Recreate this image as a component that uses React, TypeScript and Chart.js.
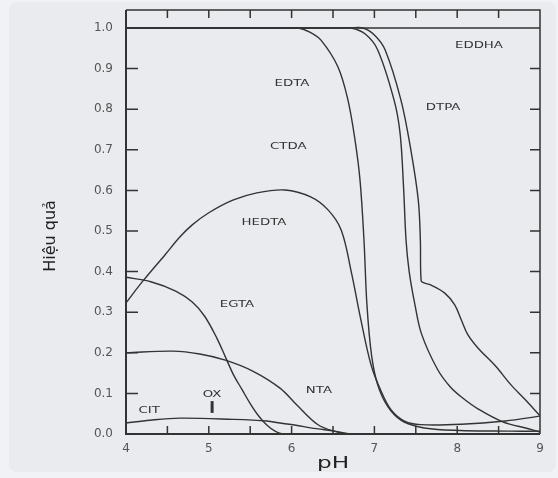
import React, { useEffect, useRef } from 'react';
import { Chart, registerables } from 'chart.js';

Chart.register(...registerables);

// ---- axis values ----
const xTickValues = [4, 5, 6, 7, 8, 9];
const xMinorTicks = [4.5, 5, 5.5, 6, 6.5, 7, 7.5, 8, 8.5];
const yTickValues = [0, 0.1, 0.2, 0.3, 0.4, 0.5, 0.6, 0.7, 0.8, 0.9, 1.0];
const yInnerTicks = [0.1, 0.2, 0.3, 0.4, 0.5, 0.6, 0.7, 0.8, 0.9];
const xAxisTitle = 'pH';
const yAxisTitle = 'Hiệu quả';

// ---- series (pH, efficiency) ----
const eddhaPH = [4, 9];
const eddhaVal = [1.0, 1.0];

const edtaPH = [4, 5.9, 6.08, 6.22, 6.355, 6.56, 6.68, 6.766, 6.826, 6.874, 6.91, 6.965, 7.04, 7.16, 7.32, 7.53, 7.85, 8.65, 9];
const edtaVal = [1.0, 1.0, 1.0, 0.99, 0.97, 0.904, 0.823, 0.724, 0.626, 0.478, 0.318, 0.195, 0.121, 0.068, 0.034, 0.018, 0.01, 0.007, 0.007];

const hedtaPH = [4, 4.205, 4.47, 4.65, 4.8, 5.0, 5.29, 5.58, 5.92, 6.23, 6.44, 6.6, 6.72, 6.84, 6.96, 7.08, 7.2, 7.37, 7.56, 8.05, 8.58, 9];
const hedtaVal = [0.323, 0.377, 0.441, 0.485, 0.515, 0.545, 0.576, 0.594, 0.601, 0.584, 0.552, 0.502, 0.4, 0.278, 0.17, 0.106, 0.06, 0.031, 0.023, 0.024, 0.032, 0.044];

const dtpaPH = [4, 6.55, 6.72, 6.89, 7.04, 7.237, 7.31, 7.352, 7.382, 7.42, 7.49, 7.57, 7.76, 7.92, 8.07, 8.25, 8.55, 8.86, 9];
const dtpaVal = [1.0, 1.0, 1.0, 0.985, 0.946, 0.823, 0.741, 0.608, 0.478, 0.4, 0.318, 0.246, 0.16, 0.115, 0.088, 0.062, 0.03, 0.013, 0.005];

const dtpa2PH = [4, 6.7, 6.86, 7.0, 7.13, 7.32, 7.44, 7.53, 7.555, 7.565, 7.6, 7.68, 7.85, 7.97, 8.05, 8.13, 8.25, 8.46, 8.65, 8.82, 9];
const dtpa2Val = [1.0, 1.0, 1.0, 0.983, 0.946, 0.823, 0.7, 0.576, 0.478, 0.377, 0.372, 0.367, 0.347, 0.318, 0.281, 0.244, 0.212, 0.168, 0.121, 0.085, 0.045];

const egtaPH = [4, 4.3, 4.6, 4.8, 4.95, 5.1, 5.2, 5.3, 5.4, 5.5, 5.6, 5.7, 5.8, 5.9, 9];
const egtaVal = [0.386, 0.375, 0.352, 0.325, 0.29, 0.235, 0.19, 0.145, 0.11, 0.075, 0.045, 0.022, 0.007, 0, 0];

const ntaPH = [4, 4.57, 4.89, 5.2, 5.53, 5.86, 6.07, 6.31, 6.51, 6.7, 9];
const ntaVal = [0.2, 0.204, 0.197, 0.182, 0.155, 0.113, 0.07, 0.024, 0.007, 0.0, 0];

const citPH = [4, 4.29, 4.65, 5.29, 5.7, 5.86, 6.07, 6.23, 6.52, 6.75, 9];
const citVal = [0.027, 0.034, 0.039, 0.036, 0.032, 0.027, 0.021, 0.015, 0.007, 0.0, 0];

const oxPH = [5.04, 5.04];
const oxVal = [0.052, 0.081];

// ---- curve labels (text, pH, efficiency) ----
const labelTexts = ['EDDHA', 'EDTA', 'DTPA', 'CTDA', 'HEDTA', 'EGTA', 'NTA', 'CIT', 'OX'];
const labelPH = [8.263, 6.005, 7.83, 5.96, 5.667, 5.34, 6.33, 4.28, 5.04];
const labelVal = [0.958, 0.862, 0.805, 0.707, 0.52, 0.318, 0.108, 0.057, 0.096];

const LINE = '#333333';
const BG = '#e9ebef';
const OUTER = '#f1f2f5';

const toPoints = (xs: number[], ys: number[]) => xs.map((x, i) => ({ x, y: ys[i] }));

const series = [
  { name: 'EDDHA', xs: eddhaPH, ys: eddhaVal },
  { name: 'EDTA', xs: edtaPH, ys: edtaVal },
  { name: 'HEDTA', xs: hedtaPH, ys: hedtaVal },
  { name: 'DTPA', xs: dtpaPH, ys: dtpaVal },
  { name: 'DTPA2', xs: dtpa2PH, ys: dtpa2Val },
  { name: 'EGTA', xs: egtaPH, ys: egtaVal },
  { name: 'NTA', xs: ntaPH, ys: ntaVal },
  { name: 'CIT', xs: citPH, ys: citVal },
];

const decorPlugin = {
  id: 'decor',
  beforeDraw(chart: any) {
    const ctx = chart.ctx;
    ctx.save();
    ctx.fillStyle = OUTER;
    ctx.fillRect(0, 0, chart.width, chart.height);
    ctx.fillStyle = BG;
    ctx.beginPath();
    if (ctx.roundRect) {
      ctx.roundRect(9, 2, chart.width - 11, chart.height - 8, 8);
    } else {
      ctx.rect(9, 2, chart.width - 11, chart.height - 8);
    }
    ctx.fill();
    ctx.restore();
  },
  afterDatasetsDraw(chart: any) {
    const ctx = chart.ctx;
    const { left, right, top, bottom } = chart.chartArea;
    const xs = chart.scales.x;
    const ys = chart.scales.y;
    ctx.save();
    ctx.strokeStyle = LINE;
    // frame
    ctx.lineWidth = 2;
    ctx.beginPath();
    ctx.moveTo(left, top);
    ctx.lineTo(left, bottom);
    ctx.lineTo(right, bottom);
    ctx.stroke();
    ctx.lineWidth = 1.5;
    ctx.beginPath();
    ctx.moveTo(left, top);
    ctx.lineTo(right, top);
    ctx.lineTo(right, bottom);
    ctx.stroke();
    // inner ticks
    ctx.lineWidth = 1.5;
    ctx.beginPath();
    yTickValues.forEach((v) => {
      const py = ys.getPixelForValue(v);
      ctx.moveTo(left, py);
      ctx.lineTo(left + 12, py);
    });
    yInnerTicks.forEach((v) => {
      const py = ys.getPixelForValue(v);
      ctx.moveTo(right, py);
      ctx.lineTo(right - 10, py);
    });
    xMinorTicks.forEach((v) => {
      const px = xs.getPixelForValue(v);
      ctx.moveTo(px, bottom);
      ctx.lineTo(px, bottom - 8);
      ctx.moveTo(px, top);
      ctx.lineTo(px, top + 8);
    });
    ctx.stroke();

    // curve labels (horizontally stretched like the source)
    ctx.fillStyle = '#333';
    ctx.font = '9.5px "DejaVu Sans"';
    ctx.textAlign = 'center';
    ctx.textBaseline = 'middle';
    labelTexts.forEach((t, i) => {
      const px = xs.getPixelForValue(labelPH[i]);
      const py = ys.getPixelForValue(labelVal[i]);
      ctx.save();
      ctx.translate(px, py);
      ctx.scale(1.4, 1);
      ctx.fillText(t, 0, 0);
      ctx.restore();
    });

    // axis titles
    ctx.fillStyle = '#222';
    ctx.font = '16px "DejaVu Sans"';
    ctx.textBaseline = 'alphabetic';
    ctx.save();
    ctx.translate((left + right) / 2, 468);
    ctx.scale(1.45, 1);
    ctx.fillText(xAxisTitle, 0, 0);
    ctx.restore();

    ctx.save();
    ctx.translate(51, 236);
    ctx.rotate(-Math.PI / 2);
    ctx.textBaseline = 'middle';
    ctx.fillText(yAxisTitle, 0, 0);
    ctx.restore();
    ctx.restore();
  },
};

export default function App() {
  const ref = useRef<HTMLCanvasElement>(null);
  useEffect(() => {
    const datasets: any[] = series.map((s) => ({
      label: s.name,
      data: toPoints(s.xs, s.ys),
      borderColor: LINE,
      borderWidth: 1.4,
      pointRadius: 0,
      fill: false,
      tension: 0.35,
    }));
    datasets.push({
      label: 'OX',
      data: toPoints(oxPH, oxVal),
      borderColor: LINE,
      borderWidth: 3,
      pointRadius: 0,
      fill: false,
      tension: 0,
    });
    const chart = new Chart(ref.current as HTMLCanvasElement, {
      type: 'line',
      data: { datasets },
      options: {
        responsive: false,
        maintainAspectRatio: false,
        animation: false,
        layout: { padding: { top: 10, right: 18, left: 0, bottom: 0 } },
        plugins: { legend: { display: false }, tooltip: { enabled: false } },
        scales: {
          x: {
            type: 'linear',
            min: 4,
            max: 9,
            afterBuildTicks: (s: any) => {
              s.ticks = xTickValues.map((v) => ({ value: v }));
            },
            afterFit: (s: any) => {
              s.height = 44;
            },
            grid: { display: false, drawTicks: false },
            border: { display: false },
            ticks: {
              padding: 8,
              color: '#555',
              font: { family: 'DejaVu Sans', size: 12 },
              callback: (v: any) => String(v),
            },
          },
          y: {
            type: 'linear',
            min: 0,
            max: 1.0443,
            afterBuildTicks: (s: any) => {
              s.ticks = yTickValues.map((v) => ({ value: v }));
            },
            afterFit: (s: any) => {
              s.width = 126;
              s.paddingTop = 0;
              s.paddingBottom = 0;
            },
            grid: { display: false, drawTicks: false },
            border: { display: false },
            ticks: {
              padding: 13,
              color: '#555',
              font: { family: 'DejaVu Sans', size: 12 },
              callback: (v: any) => Number(v).toFixed(1),
            },
          },
        },
      },
      plugins: [decorPlugin],
    } as any);
    return () => chart.destroy();
  }, []);
  return (
    <div style={{ position: 'absolute', left: 0, top: 0, width: 558, height: 478 }}>
      <canvas ref={ref} width={558} height={478} style={{ display: 'block', width: 558, height: 478 }} />
    </div>
  );
}
